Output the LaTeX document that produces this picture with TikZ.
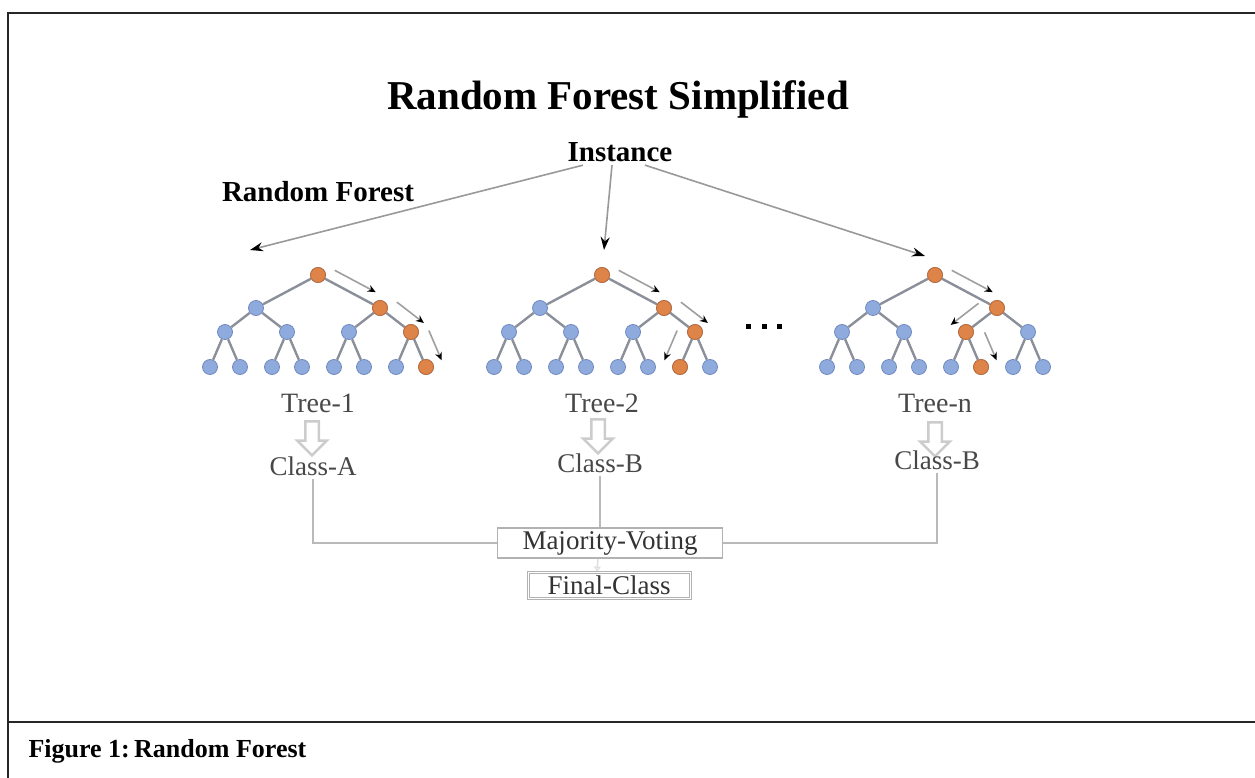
\documentclass[tikz,border=0pt]{standalone}
\usepackage{fontspec}
\setmainfont{Liberation Serif}
\usepackage{tikz}
\usetikzlibrary{positioning}
\usetikzlibrary{calc}
\usetikzlibrary{arrows.meta}
\usetikzlibrary{shapes.arrows}

\definecolor{leafblue}{RGB}{143,170,220}
\definecolor{leafedge}{RGB}{112,138,192}
\definecolor{pathorange}{RGB}{222,132,72}
\definecolor{pathedge}{RGB}{190,106,52}
\definecolor{branchgray}{RGB}{138,143,153}
\definecolor{labelgray}{RGB}{72,72,72}

\newcommand{\fsz}[1]{\fontsize{#1}{#1}\selectfont}

\tikzset{
  cold/.style={circle, fill=leafblue, draw=leafedge, line width=0.8pt, minimum size=15pt, inner sep=0pt},
  hotdot/.style={fill=pathorange, draw=pathedge, line width=0.8pt},
  branch/.style={draw=branchgray, line width=2.4pt},
  walk/.style={draw=gray!75, line width=1.6pt, -{Stealth[black,length=8pt,width=7pt]}},
  bigarrow/.style={draw=gray!80, line width=1.6pt, -{Stealth[black,length=13pt,width=9pt]}},
  fatarrow/.style={single arrow, draw=gray!40, fill=white, line width=2.5pt, rotate=-90,
    minimum height=34pt, inner sep=5.5pt, single arrow head extend=8pt},
  treelabel/.style={text=labelgray, font=\fsz{28}},
  classlabel/.style={text=labelgray, font=\fsz{27}},
  votebox/.style={draw=gray!60, line width=1.5pt, text=black!80, font=\fsz{27}, inner sep=0pt},
  vote/.style={draw=gray!55, line width=2pt},
  frame/.style={draw=black!85, line width=2pt}
}

% one decision tree: name, root x, label
\newcommand{\rftree}[3]{
  \node[cold] (#1-0-1) at (#2,275) {};
  \foreach \i/\dx in {1/-62,2/62} {
    \node[cold] (#1-1-\i) at (#2+\dx,308) {};
    \draw[branch] (#1-0-1) -- (#1-1-\i);
  }
  \foreach \i/\dx in {1/-93,2/-31,3/31,4/93} {
    \pgfmathtruncatemacro\up{(\i+1)/2}
    \node[cold] (#1-2-\i) at (#2+\dx,332) {};
    \draw[branch] (#1-1-\up) -- (#1-2-\i);
  }
  \foreach \i/\dx in {1/-108,2/-78,3/-46,4/-16,5/16,6/46,7/78,8/108} {
    \pgfmathtruncatemacro\up{(\i+1)/2}
    \node[cold] (#1-3-\i) at (#2+\dx,367) {};
    \draw[branch] (#1-2-\up) -- (#1-3-\i);
  }
  \node[treelabel] (#1-lab) at (#2,403) {#3};
}

% arrow beside an edge: from, to, start, end, offset, side
\newcommand{\walk}[6]{
  \draw[walk] ($(#1)!#3!(#2)!#5!#6:(#1)$) -- ($(#1)!#4!(#2)!#5!#6:(#1)$);
}

\begin{document}
\begin{tikzpicture}[x=1pt, y=-1pt]
  \useasboundingbox (0,0) rectangle (1255,778);

  % frame of the figure
  \draw[frame] (8,778) -- (8,13) -- (1255,13);
  \draw[frame] (8,722) -- (1255,722);
  \node[anchor=base west, font=\bfseries\fsz{26}] (cap) at (25,757) {Figure 1:\,Random Forest};

  \node[font=\bfseries\fsz{41}] (title) at (618,99) {Random Forest Simplified};
  \node[font=\bfseries\fsz{29}] (inst) at (620,152) {Instance};
  \node[font=\bfseries\fsz{29}] (rf) at (318,192) {Random Forest};

  % the trees
  \rftree{t1}{318}{Tree-1}
  \rftree{t2}{602}{Tree-2}
  \rftree{tn}{935}{Tree-n}

  % path of the instance through each tree
  \foreach \h in {0-1,1-2,2-4,3-8} \path[hotdot] (t1-\h) circle[radius=7.5pt];
  \foreach \h in {0-1,1-2,2-4,3-7} \path[hotdot] (t2-\h) circle[radius=7.5pt];
  \foreach \h in {0-1,1-2,2-3,3-6} \path[hotdot] (tn-\h) circle[radius=7.5pt];

  \walk{t1-0-1}{t1-1-2}{0.18}{0.84}{12pt}{-90}
  \walk{t1-1-2}{t1-2-4}{0.25}{1.12}{15pt}{-90}
  \walk{t1-2-4}{t1-3-8}{0.15}{1.0}{17pt}{-90}
  \walk{t2-0-1}{t2-1-2}{0.18}{0.84}{12pt}{-90}
  \walk{t2-1-2}{t2-2-4}{0.25}{1.12}{15pt}{-90}
  \walk{t2-2-4}{t2-3-7}{0.15}{1.0}{17pt}{90}
  \walk{tn-0-1}{tn-1-2}{0.18}{0.84}{12pt}{-90}
  \walk{tn-1-2}{tn-2-3}{0.3}{1.2}{15pt}{90}
  \walk{tn-2-3}{tn-3-6}{0.2}{1.0}{17pt}{-90}

  % dots between tree 2 and tree n
  \foreach \k/\dx in {1/748,2/764,3/779}
    \node[fill=black, minimum size=5pt, inner sep=0pt] (dot\k) at (\dx,326) {};

  % instance goes to every tree
  \coordinate (to1) at (250,250);
  \coordinate (to2) at (604,250);
  \coordinate (ton) at (925,256);
  \draw[bigarrow] ([xshift=-37pt]inst.south) -- (to1);
  \draw[bigarrow] ([xshift=-8pt]inst.south) -- (to2);
  \draw[bigarrow] ([xshift=25pt]inst.south) -- (ton);

  % each tree gives a class
  \node[fatarrow] (d1) at (312,435) {};
  \node[fatarrow] (d2) at (598,433) {};
  \node[fatarrow] (dn) at (935,436) {};
  \node[classlabel] (ca) at (313,466) {Class-A};
  \node[classlabel] (cb) at (600,463) {Class-B};
  \node[classlabel] (cn) at (937,460) {Class-B};

  % voting
  \node[votebox, minimum width=225pt, minimum height=30pt] (mv) at (610,543) {Majority-Voting};
  \node[votebox, minimum width=162pt, minimum height=26pt, double=white, double distance=1pt, line width=1pt] (fc) at (609,585) {Final-Class};
  \draw[vote] (ca.south) |- (mv.west);
  \draw[vote] (cb.south) -- (cb.south |- mv.north);
  \draw[vote] (cn.south) |- (mv.east);
  \draw[draw=gray!25, line width=1.5pt, -{Triangle[open,length=5pt,width=7pt]}] ([xshift=-12pt]mv.south) -- ([xshift=-12pt]fc.north);
\end{tikzpicture}
\end{document}
